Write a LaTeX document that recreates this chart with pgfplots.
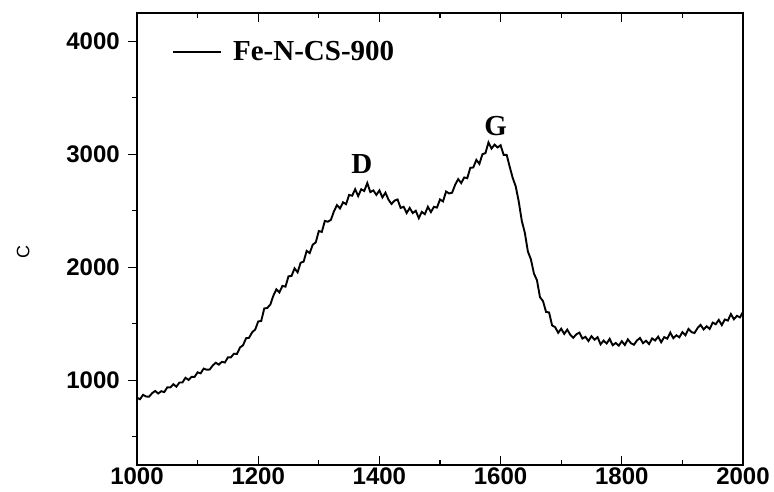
\documentclass[border=0pt]{standalone}
\usepackage{fontspec}
\setmainfont{Liberation Serif}
\setsansfont{Liberation Sans}
\usepackage{pgfplots}
\pgfplotsset{compat=1.18}
\begin{document}
\begin{tikzpicture}
\useasboundingbox (-137pt,-26pt) rectangle (637pt,465pt);
\begin{axis}[
  at={(0pt,0pt)}, anchor=south west,
  scale only axis, width=606pt, height=452pt,
  xmin=1000, xmax=2000, ymin=250, ymax=4250,
  xtick={1000,1200,...,2000}, minor xtick={1100,1300,...,1900},
  ytick={1000,2000,3000,4000}, minor ytick={500,1500,2500,3500},
  xtick align=inside, ytick align=outside, ytick pos=left,
  major tick length=9pt, minor tick length=5pt,
  every tick/.style={black, line width=1.1pt},
  axis line style={line width=1.3pt},
  ticklabel style={font=\fontsize{24}{28}\selectfont\sffamily\bfseries},
  /pgf/number format/assume math mode=true,
  /pgf/number format/set thousands separator={},
  yticklabel style={inner sep=0pt, xshift=-8pt},
  xticklabel style={inner sep=0pt, yshift=-3pt},
  ylabel={C},
  ylabel style={at={(axis description cs:-0.188,0.471)}, anchor=center, font=\fontsize{18}{20}\selectfont\sffamily},
  legend style={draw=none, fill=none, at={(axis description cs:0.0578,0.914)}, anchor=west,
    inner sep=0pt, font=\fontsize{29}{32}\selectfont\bfseries,
    nodes={inner xsep=11pt, inner ysep=0pt}},
  legend image code/.code={\draw[#1] (0pt,0pt) -- (48pt,0pt);},
  legend cell align=left,
]
\addplot[black, line width=1.9pt] coordinates {
(1000,845) (1005,832) (1010,871) (1015,856) (1020,855) (1025,886) (1030,905) (1035,883) (1040,903) (1045,895)
(1050,937) (1055,936) (1060,965) (1065,943) (1070,980) (1075,980) (1080,1022) (1085,1003) (1090,1030) (1095,1030)
(1100,1070) (1105,1061) (1110,1103) (1115,1093) (1120,1095) (1125,1131) (1130,1155) (1135,1138) (1140,1163) (1145,1157)
(1150,1202) (1155,1203) (1160,1235) (1165,1233) (1170,1290) (1175,1310) (1180,1372) (1185,1376) (1190,1425) (1195,1448)
(1200,1520) (1205,1525) (1210,1635) (1215,1640) (1220,1670) (1225,1748) (1230,1805) (1235,1778) (1240,1835) (1245,1828)
(1250,1920) (1255,1923) (1260,1990) (1265,1955) (1270,2040) (1275,2050) (1280,2145) (1285,2125) (1290,2200) (1295,2220)
(1300,2320) (1305,2313) (1310,2410) (1315,2403) (1320,2420) (1325,2495) (1330,2550) (1335,2520) (1340,2575) (1345,2558)
(1350,2640) (1355,2633) (1360,2690) (1365,2630) (1370,2690) (1375,2675) (1380,2745) (1385,2665) (1390,2680) (1395,2640)
(1400,2680) (1405,2618) (1410,2660) (1415,2598) (1420,2560) (1425,2590) (1430,2600) (1435,2525) (1440,2535) (1445,2480)
(1450,2525) (1455,2480) (1460,2500) (1465,2435) (1470,2490) (1475,2470) (1480,2535) (1485,2488) (1490,2535) (1495,2528)
(1500,2600) (1505,2583) (1510,2670) (1515,2653) (1520,2660) (1525,2730) (1530,2780) (1535,2745) (1540,2795) (1545,2788)
(1550,2880) (1555,2883) (1560,2950) (1565,2915) (1570,3000) (1575,3010) (1580,3105) (1585,3050) (1590,3085) (1595,3060)
(1600,3080) (1605,2995) (1610,2995) (1615,2890) (1620,2790) (1625,2715) (1630,2580) (1635,2410) (1640,2305) (1645,2140)
(1650,2070) (1655,1945) (1660,1885) (1665,1735) (1670,1700) (1675,1605) (1680,1600) (1685,1485) (1690,1470) (1695,1420)
(1700,1456) (1705,1410) (1710,1448) (1715,1402) (1720,1376) (1725,1407) (1730,1422) (1735,1369) (1740,1384) (1745,1347)
(1750,1390) (1755,1359) (1760,1381) (1765,1318) (1770,1351) (1775,1325) (1780,1366) (1785,1310) (1790,1330) (1795,1306)
(1800,1346) (1805,1312) (1810,1362) (1815,1328) (1820,1314) (1825,1352) (1830,1374) (1835,1328) (1840,1350) (1845,1320)
(1850,1370) (1855,1352) (1860,1386) (1865,1336) (1870,1382) (1875,1368) (1880,1422) (1885,1372) (1890,1398) (1895,1380)
(1900,1426) (1905,1398) (1910,1454) (1915,1426) (1920,1418) (1925,1462) (1930,1490) (1935,1450) (1940,1478) (1945,1454)
(1950,1510) (1955,1496) (1960,1534) (1965,1488) (1970,1538) (1975,1528) (1980,1586) (1985,1540) (1990,1570) (1995,1556)
(2000,1606)
};
\addlegendentry{Fe-N-CS-900}
\node[font=\fontsize{29}{32}\selectfont\bfseries] at (axis cs:1371,2915) {D};
\node[font=\fontsize{29}{32}\selectfont\bfseries] at (axis cs:1592,3250) {G};
\end{axis}
\end{tikzpicture}
\end{document}
